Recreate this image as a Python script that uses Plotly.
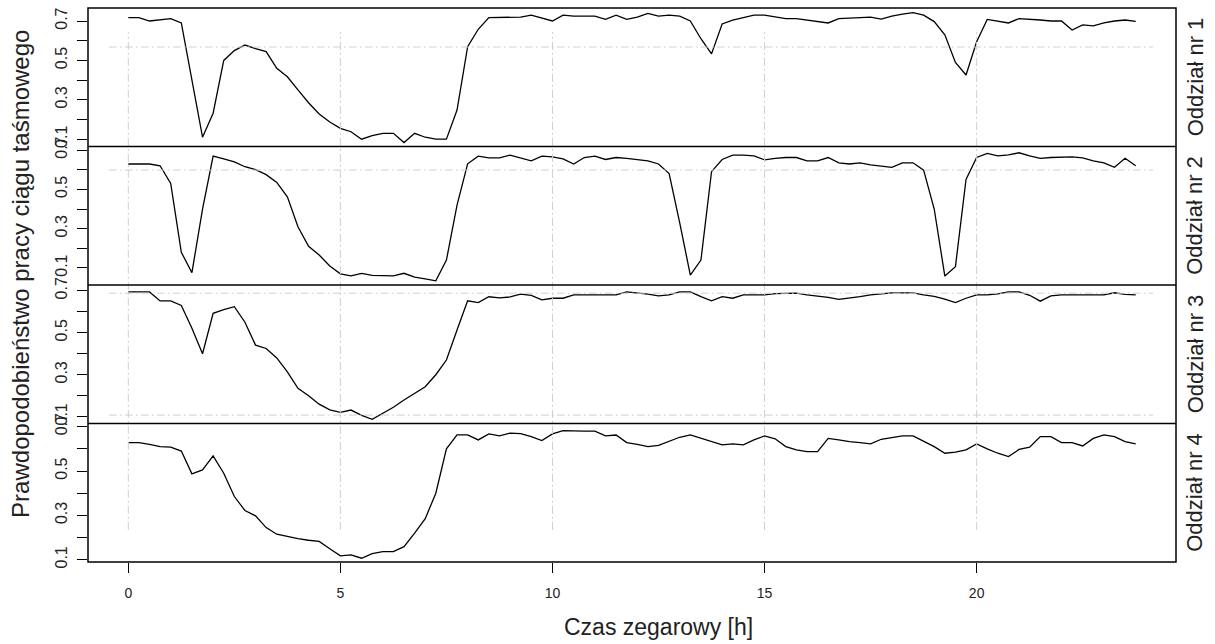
import plotly.graph_objects as go
from plotly.subplots import make_subplots

# time of day [h], 15-minute steps
hours = [i * 0.25 for i in range(96)]

oddzial_1 = [
    0.717, 0.717, 0.700, 0.706, 0.712, 0.690, 0.400, 0.110,
    0.232, 0.500, 0.550, 0.578, 0.560, 0.545, 0.460, 0.417,
    0.350, 0.285, 0.228, 0.187, 0.155, 0.138, 0.100, 0.118,
    0.130, 0.130, 0.083, 0.130, 0.110, 0.100, 0.100, 0.248,
    0.570, 0.658, 0.717, 0.717, 0.717, 0.720, 0.730, 0.715,
    0.700, 0.730, 0.725, 0.725, 0.725, 0.708, 0.730, 0.708,
    0.720, 0.739, 0.725, 0.730, 0.725, 0.700, 0.610, 0.533,
    0.685, 0.705, 0.718, 0.730, 0.730, 0.720, 0.712, 0.712,
    0.705, 0.700, 0.690, 0.712, 0.715, 0.720, 0.720, 0.710,
    0.725, 0.735, 0.742, 0.730, 0.697, 0.630, 0.490, 0.426,
    0.595, 0.708, 0.700, 0.690, 0.712, 0.710, 0.705, 0.700,
    0.700, 0.654, 0.680, 0.675, 0.690, 0.700, 0.705, 0.698,
]

oddzial_2 = [
    0.629, 0.629, 0.629, 0.620, 0.530, 0.180, 0.076, 0.400,
    0.669, 0.655, 0.640, 0.615, 0.600, 0.575, 0.535, 0.462,
    0.310, 0.210, 0.166, 0.110, 0.070, 0.060, 0.073, 0.062,
    0.060, 0.060, 0.073, 0.053, 0.045, 0.035, 0.140, 0.420,
    0.630, 0.669, 0.660, 0.660, 0.674, 0.660, 0.645, 0.669,
    0.665, 0.655, 0.629, 0.662, 0.669, 0.652, 0.662, 0.658,
    0.650, 0.645, 0.629, 0.580, 0.330, 0.064, 0.140, 0.590,
    0.652, 0.674, 0.674, 0.670, 0.650, 0.658, 0.662, 0.662,
    0.645, 0.645, 0.662, 0.635, 0.629, 0.635, 0.625, 0.620,
    0.612, 0.635, 0.635, 0.598, 0.400, 0.059, 0.107, 0.550,
    0.662, 0.683, 0.670, 0.675, 0.686, 0.670, 0.658, 0.662,
    0.665, 0.665, 0.660, 0.645, 0.635, 0.612, 0.658, 0.620,
]

oddzial_3 = [
    0.694, 0.694, 0.694, 0.651, 0.651, 0.630, 0.521, 0.400,
    0.592, 0.610, 0.624, 0.550, 0.441, 0.425, 0.380, 0.314,
    0.235, 0.200, 0.160, 0.133, 0.121, 0.132, 0.107, 0.088,
    0.115, 0.145, 0.180, 0.211, 0.243, 0.300, 0.370, 0.513,
    0.652, 0.643, 0.671, 0.666, 0.670, 0.684, 0.678, 0.656,
    0.664, 0.664, 0.680, 0.680, 0.680, 0.680, 0.680, 0.694,
    0.690, 0.684, 0.675, 0.680, 0.694, 0.694, 0.672, 0.652,
    0.672, 0.664, 0.680, 0.680, 0.680, 0.686, 0.688, 0.688,
    0.680, 0.675, 0.668, 0.659, 0.664, 0.672, 0.680, 0.684,
    0.690, 0.690, 0.690, 0.680, 0.673, 0.660, 0.643, 0.664,
    0.680, 0.680, 0.685, 0.694, 0.694, 0.678, 0.650, 0.675,
    0.680, 0.680, 0.680, 0.680, 0.680, 0.690, 0.682, 0.680,
]

oddzial_4 = [
    0.628, 0.628, 0.620, 0.610, 0.608, 0.590, 0.487, 0.505,
    0.568, 0.490, 0.385, 0.322, 0.298, 0.245, 0.215, 0.204,
    0.195, 0.188, 0.183, 0.150, 0.118, 0.122, 0.107, 0.128,
    0.137, 0.137, 0.159, 0.220, 0.285, 0.400, 0.600, 0.663,
    0.663, 0.640, 0.667, 0.658, 0.671, 0.668, 0.655, 0.637,
    0.667, 0.682, 0.680, 0.680, 0.680, 0.658, 0.662, 0.628,
    0.620, 0.610, 0.615, 0.635, 0.652, 0.663, 0.648, 0.630,
    0.618, 0.622, 0.618, 0.640, 0.658, 0.645, 0.610, 0.595,
    0.587, 0.587, 0.647, 0.640, 0.632, 0.628, 0.622, 0.643,
    0.652, 0.658, 0.658, 0.635, 0.610, 0.580, 0.585, 0.595,
    0.622, 0.600, 0.580, 0.565, 0.597, 0.607, 0.655, 0.655,
    0.628, 0.628, 0.613, 0.647, 0.663, 0.655, 0.632, 0.622,
]

series = [oddzial_1, oddzial_2, oddzial_3, oddzial_4]
panel_names = ["Oddział nr 1", "Oddział nr 2", "Oddział nr 3", "Oddział nr 4"]
y_ranges = [[0.063, 0.766], [0.0135, 0.718], [0.068, 0.727], [0.090, 0.714]]
ref_levels = [[0.568], [0.598], [0.688, 0.108], []]
x_ticks = [0, 5, 10, 15, 20]
y_ticks = [0.1, 0.2, 0.3, 0.4, 0.5, 0.6, 0.7]
y_ticktext = ["0.1", "", "0.3", "", "0.5", "", "0.7"]

FONT = "Liberation Sans, Arial, sans-serif"
GRID = dict(color="#cfcfcf", width=1, dash="8px,3px,2px,3px")

fig = make_subplots(rows=4, cols=1, shared_xaxes=True, vertical_spacing=0)

for i, ys in enumerate(series):
    fig.add_trace(
        go.Scatter(x=hours, y=ys, mode="lines",
                   line=dict(color="black", width=1.3),
                   showlegend=False, hoverinfo="skip"),
        row=i + 1, col=1,
    )
    fig.update_yaxes(
        range=y_ranges[i], tickvals=y_ticks, ticktext=y_ticktext,
        tickangle=-90, ticks="outside", ticklen=10, tickwidth=1,
        tickcolor="black", showline=False, showgrid=False, zeroline=False,
        tickfont=dict(family=FONT, size=16, color="#222"),
        ticklabelstandoff=4, automargin=False,
        row=i + 1, col=1,
    )
    fig.update_xaxes(
        range=[-0.95, 24.7], showline=False, showgrid=False, zeroline=False,
        ticks="outside" if i == 3 else "", tickvals=x_ticks, ticklen=10,
        tickwidth=1, tickcolor="black",
        showticklabels=(i == 3), ticklabelstandoff=8, automargin=False,
        tickfont=dict(family=FONT, size=14, color="#222"),
        row=i + 1, col=1,
    )
    axis_id = "" if i == 0 else str(i + 1)
    for lvl in ref_levels[i]:
        fig.add_shape(type="line", xref="x" + axis_id, yref="y" + axis_id,
                      x0=-0.46, x1=24.16, y0=lvl, y1=lvl, layer="above",
                      line=GRID)

for xv in x_ticks:
    fig.add_shape(type="line", xref="x", yref="paper", x0=xv, x1=xv,
                  y0=0.0578, y1=0.957, layer="above", line=GRID)

# panel frames
fig.add_shape(type="rect", xref="paper", yref="paper", x0=0, x1=1, y0=0, y1=1,
              layer="above", line=dict(color="black", width=1.5))
for yb in [0.25, 0.5, 0.75]:
    fig.add_shape(type="line", xref="paper", yref="paper", x0=0, x1=1,
                  y0=yb, y1=yb, layer="above",
                  line=dict(color="black", width=1.5))

annotations = []
for i, name in enumerate(panel_names):
    yc = 1 - (i + 0.5) / 4
    annotations.append(dict(text=name, x=1.0175, y=yc, xref="paper", yref="paper",
                            textangle=-90, showarrow=False, xanchor="center",
                            yanchor="middle",
                            font=dict(family=FONT, size=22, color="#222")))
annotations.append(dict(text="Prawdopodobieństwo pracy ciągu taśmowego",
                        x=-0.0616, y=0.52, xref="paper", yref="paper",
                        textangle=-90, showarrow=False, xanchor="center",
                        yanchor="middle",
                        font=dict(family=FONT, size=24, color="#222")))
annotations.append(dict(text="Czas zegarowy [h]", x=0.524, y=-0.117,
                        xref="paper", yref="paper", showarrow=False,
                        xanchor="center", yanchor="middle",
                        font=dict(family=FONT, size=23, color="#222")))

fig.update_layout(
    width=1215, height=644, autosize=False,
    margin=dict(l=88, r=39, t=8, b=82, autoexpand=False),
    plot_bgcolor="white", paper_bgcolor="white",
    annotations=annotations,
)

fig.write_html("out.html")
